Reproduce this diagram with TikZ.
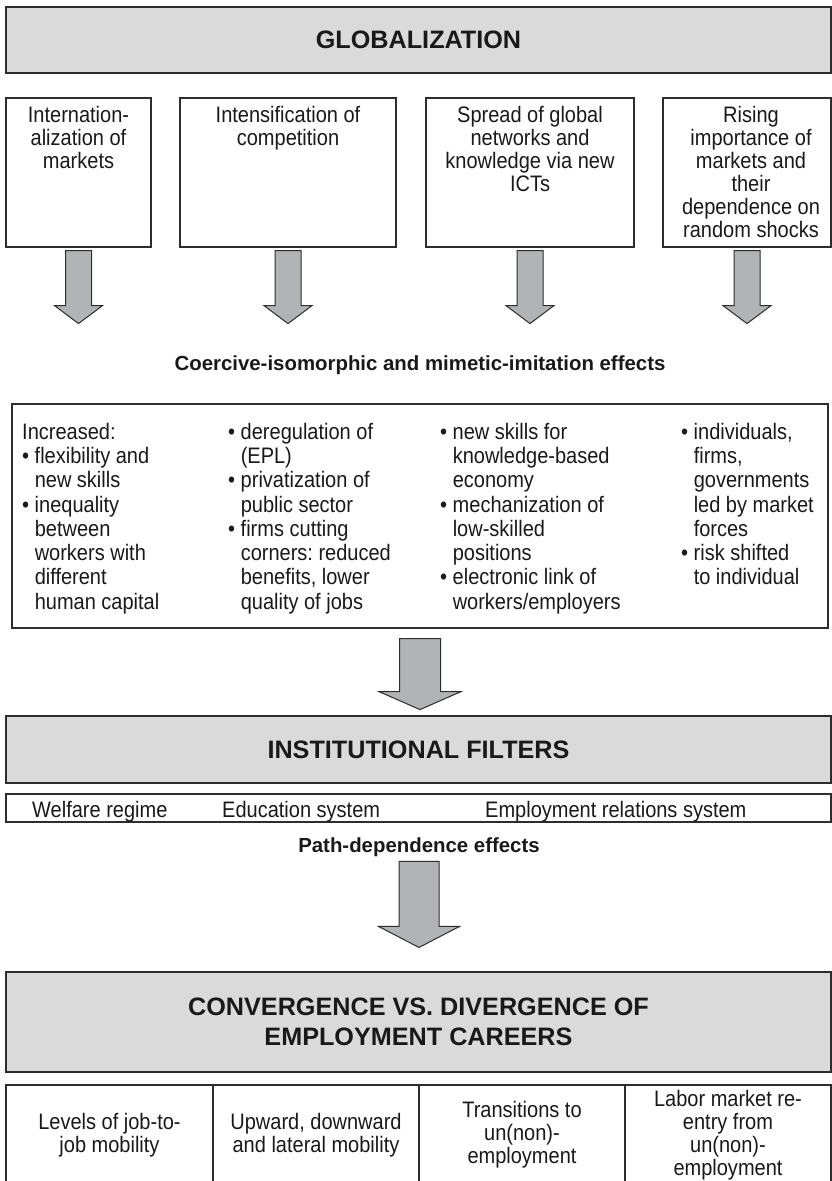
\documentclass[tikz,border=0pt]{standalone}
\usepackage{fontspec}
\setmainfont{Liberation Sans}
\newfontfamily\bodyfont{Liberation Sans}[FakeStretch=0.893]
\usetikzlibrary{positioning}
\definecolor{boxgray}{RGB}{218,218,219}
\definecolor{arrgray}{RGB}{178,179,181}
\definecolor{linegray}{RGB}{45,45,45}
\definecolor{inkgray}{RGB}{25,25,25}
\newcommand{\bul}{\textbullet\ }
\newcommand{\bulgap}{\hphantom{\textbullet\ }}
\frenchspacing

\begin{document}
\begin{tikzpicture}[x=1pt,y=-1pt,
    every node/.style={inner sep=0pt, text=inkgray},
    headbox/.style={draw=linegray, line width=1.2pt, fill=boxgray, align=center,
      font=\bfseries\fontsize{25.2}{30}\selectfont},
    plainbox/.style={draw=linegray, line width=1.2pt},
    boxtext/.style={align=center, font=\bodyfont\fontsize{22.4}{23}\selectfont},
    coltext/.style={align=left, anchor=north west, font=\bodyfont\fontsize{22.4}{24.3}\selectfont},
    effect/.style={anchor=base, font=\bfseries\fontsize{20.4}{24}\selectfont},
    blockarrow/.style={draw=linegray, line width=1pt, fill=arrgray, line join=miter}]

        \useasboundingbox (0,0) rectangle (832,1181);

        \node[headbox, minimum width=825, minimum height=66] (glob) at (418.5,40) {GLOBALIZATION};

        \begin{scope}[every node/.append style={plainbox, minimum height=149}]
          \node[minimum width=145] (t1) at (78.5,172.5) {};
          \node[minimum width=216] (t2) at (288,172.5) {};
          \node[minimum width=208] (t3) at (530,172.5) {};
          \node[minimum width=168] (t4) at (747,172.5) {};
        \end{scope}

        \begin{scope}[every node/.append style={boxtext, anchor=north}]
          \node[below=8.7pt of t1.north] (t1text) {Internation-\\alization of\\markets};
          \node[below=8.7pt of t2.north] (t2text) {Intensification of\\competition};
          \node[below=8.7pt of t3.north] (t3text) {Spread of global\\networks and\\knowledge via new\\ICTs};
          \node[below=8.7pt of t4.north, xshift=4pt] (t4text) {Rising\\importance of\\markets and\\their\\dependence on\\random shocks};
        \end{scope}

        \foreach \n in {t1,t2,t3,t4}
          \draw[blockarrow] ([shift={(-13,3)}]\n.south) -- ++(0,55) -- ++(-11,0) -- ++(24,18)
            -- ++(24,-18) -- ++(-11,0) -- ++(0,-55) -- cycle;

        \node[effect] (coerce) at (420,370) {Coercive-isomorphic and mimetic-imitation effects};

        \node[plainbox, minimum width=816, minimum height=224] (bx) at (420,516) {};

        \node[coltext] (col1) at (22,422.7) {Increased:\\\bul flexibility and\\\bulgap new skills\\\bul inequality\\\bulgap between\\\bulgap workers with\\\bulgap different\\\bulgap human capital};
        \node[coltext] (col2) at (228,422.7) {\bul deregulation of\\\bulgap (EPL)\\\bul privatization of\\\bulgap public sector\\\bul firms cutting\\\bulgap corners: reduced\\\bulgap benefits, lower\\\bulgap quality of jobs};
        \node[coltext] (col3) at (440,422.7) {\bul new skills for\\\bulgap knowledge-based\\\bulgap economy\\\bul mechanization of\\\bulgap low-skilled\\\bulgap positions\\\bul electronic link of\\\bulgap workers/employers};
        \node[coltext] (col4) at (681,422.7) {\bul individuals,\\\bulgap firms,\\\bulgap governments\\\bulgap led by market\\\bulgap forces\\\bul risk shifted\\\bulgap to individual};

        \draw[blockarrow] ([shift={(-20.5,10)}]bx.south) -- ++(0,53) -- ++(-20.5,0) -- ++(41,18)
          -- ++(41,-18) -- ++(-20.5,0) -- ++(0,-53) -- cycle;

        \node[headbox, minimum width=825, minimum height=67] (inst) at (418.5,749.5) {INSTITUTIONAL FILTERS};
        \node[plainbox, minimum width=825, minimum height=28] (filters) at (418.5,808) {};

        \begin{scope}[every node/.append style={anchor=base west, font=\bodyfont\fontsize{22.4}{23}\selectfont}]
          \node (welfare) at (32,817) {Welfare regime};
          \node (educ) at (222,817) {Education system};
          \node (empl) at (485,817) {Employment relations system};
        \end{scope}

        \node[effect] (path) at (419,852) {Path-dependence effects};

        \draw[blockarrow] ([shift={(-20,5)}]path.south) -- ++(0,65) -- ++(-20.5,0) -- ++(40.5,21)
          -- ++(40.5,-21) -- ++(-20.5,0) -- ++(0,-65) -- cycle;

        \node[headbox, minimum width=825, minimum height=100] (conv) at (418.5,1022) {CONVERGENCE VS. DIVERGENCE OF\\EMPLOYMENT CAREERS};

        \begin{scope}[every node/.append style={plainbox, boxtext, minimum height=100}]
          \node[minimum width=207] (c1) at (109.5,1135) {Levels of job-to-\\job mobility};
          \node[minimum width=206] (c2) at (316,1135) {Upward, downward\\and lateral mobility};
          \node[minimum width=206] (c3) at (522,1135) {Transitions to\\un(non)-\\employment};
          \node[minimum width=206] (c4) at (728,1135) {Labor market re-\\entry from\\un(non)-\\employment};
        \end{scope}

\end{tikzpicture}
\end{document}
